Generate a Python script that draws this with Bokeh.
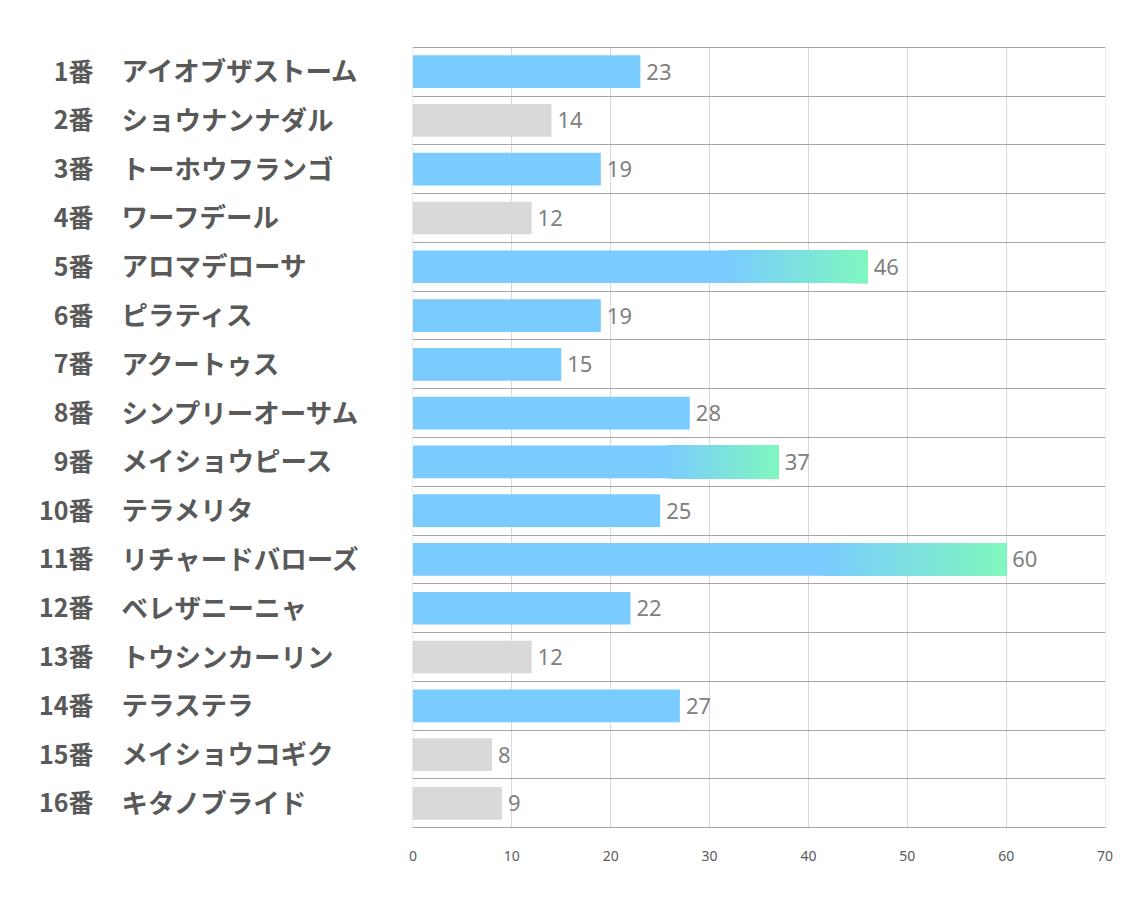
from bokeh.plotting import figure
from bokeh.models import ColumnDataSource, Range1d, FixedTicker, LabelSet
from bokeh.layouts import row
from bokeh.core.properties import value
from bokeh.embed import file_html
from bokeh.resources import INLINE

# ---- data ----
numbers = ["1番", "2番", "3番", "4番", "5番", "6番", "7番", "8番",
           "9番", "10番", "11番", "12番", "13番", "14番", "15番", "16番"]
names = ["アイオブザストーム", "ショウナンナダル", "トーホウフランゴ", "ワーフデール",
         "アロマデローサ", "ピラティス", "アクートゥス", "シンプリーオーサム",
         "メイショウピース", "テラメリタ", "リチャードバローズ", "ベレザニーニャ",
         "トウシンカーリン", "テラステラ", "メイショウコギク", "キタノブライド"]
values = [23, 14, 19, 12, 46, 19, 15, 28, 37, 25, 60, 22, 12, 27, 8, 9]
gray_horses = ["2番", "4番", "13番", "15番", "16番"]
x_ticks = [0, 10, 20, 30, 40, 50, 60, 70]

BLUE = (122, 203, 255)
GREEN = (128, 247, 190)
GRAY = "#D9D9D9"

n = len(values)
ys = [i + 0.5 for i in range(n)]
top3 = sorted(range(n), key=lambda i: -values[i])[:3]

def hexc(c):
    return "#%02x%02x%02x" % tuple(int(round(v)) for v in c)

TOP, BOTTOM, LEFTW, PAD = 46, 79, 392, 20
EPS_X, EPS_Y = 0.05, 0.015
y_range = Range1d(n + EPS_Y, -EPS_Y)

# ---- left label panel ----
lp = figure(width=LEFTW, height=907, output_backend="svg", toolbar_location=None,
            x_range=Range1d(0, LEFTW), y_range=y_range,
            min_border_left=0, min_border_right=0, min_border_top=TOP,
            min_border_bottom=BOTTOM)
lp.axis.visible = False
lp.grid.visible = False
lp.outline_line_color = None
lsrc = ColumnDataSource(dict(y=ys, num=numbers, name=names,
                             xn=[93] * n, xm=[121] * n))
lp.text(x="xn", y="y", text="num", source=lsrc, text_align="right",
        text_baseline="middle", y_offset=-2, text_font=value("Noto Sans CJK JP"),
        text_font_style="bold", text_font_size="25px", text_color="#595959")
lp.text(x="xm", y="y", text="name", source=lsrc, text_align="left",
        text_baseline="middle", y_offset=-2, text_font=value("Noto Sans CJK JP"),
        text_font_style="bold", text_font_size="26.5px", text_color="#595959")

# ---- main chart ----
p = figure(width=1134 - LEFTW, height=907, output_backend="svg", toolbar_location=None,
           x_range=Range1d(-EPS_X, 70 + EPS_X), y_range=y_range,
           min_border_left=PAD, min_border_right=29, min_border_top=TOP,
           min_border_bottom=BOTTOM)
p.outline_line_color = None
p.background_fill_color = "white"
p.border_fill_color = "white"

left, right, bar_y, colors = [], [], [], []
STEPS = 60
GSTART = 0.69
for i, v in enumerate(values):
    if numbers[i] in gray_horses:
        left.append(0); right.append(v); bar_y.append(ys[i]); colors.append(GRAY)
    else:
        left.append(0); right.append(v); bar_y.append(ys[i]); colors.append(hexc(BLUE))
        if i in top3:
            for k in range(STEPS):
                a = v * GSTART + v * (1 - GSTART) * k / STEPS
                t = (k + 0.5) / STEPS
                c = tuple(BLUE[j] + (GREEN[j] - BLUE[j]) * t for j in range(3))
                left.append(a); right.append(v)
                bar_y.append(ys[i]); colors.append(hexc(c))

bsrc = ColumnDataSource(dict(left=left, right=right, y=bar_y, color=colors))
p.hbar(y="y", left="left", right="right", height=0.67, fill_color="color",
       line_color=None, source=bsrc)

vsrc = ColumnDataSource(dict(x=values, y=ys, t=[str(v) for v in values]))
p.add_layout(LabelSet(x="x", y="y", text="t", source=vsrc, x_offset=6,
                      text_align="left", text_baseline="middle",
                      text_font=value("Noto Sans"), text_font_size="22px",
                      text_color="#808080"))

p.yaxis.visible = False
p.xaxis.ticker = FixedTicker(ticks=x_ticks)
p.xaxis.axis_line_color = None
p.xaxis.major_tick_line_color = None
p.xaxis.minor_tick_line_color = None
p.xaxis.major_label_standoff = 16
p.xaxis.major_label_text_font = "Noto Sans"
p.xaxis.major_label_text_font_size = "14px"
p.xaxis.major_label_text_color = "#595959"

p.xgrid.ticker = FixedTicker(ticks=x_ticks)
p.xgrid.grid_line_color = "#D9D9D9"
p.ygrid.ticker = FixedTicker(ticks=list(range(n + 1)))
p.ygrid.grid_line_color = "#A6A6A6"

layout = row(lp, p, spacing=0)
open("out.html", "w").write(file_html(layout, INLINE))
